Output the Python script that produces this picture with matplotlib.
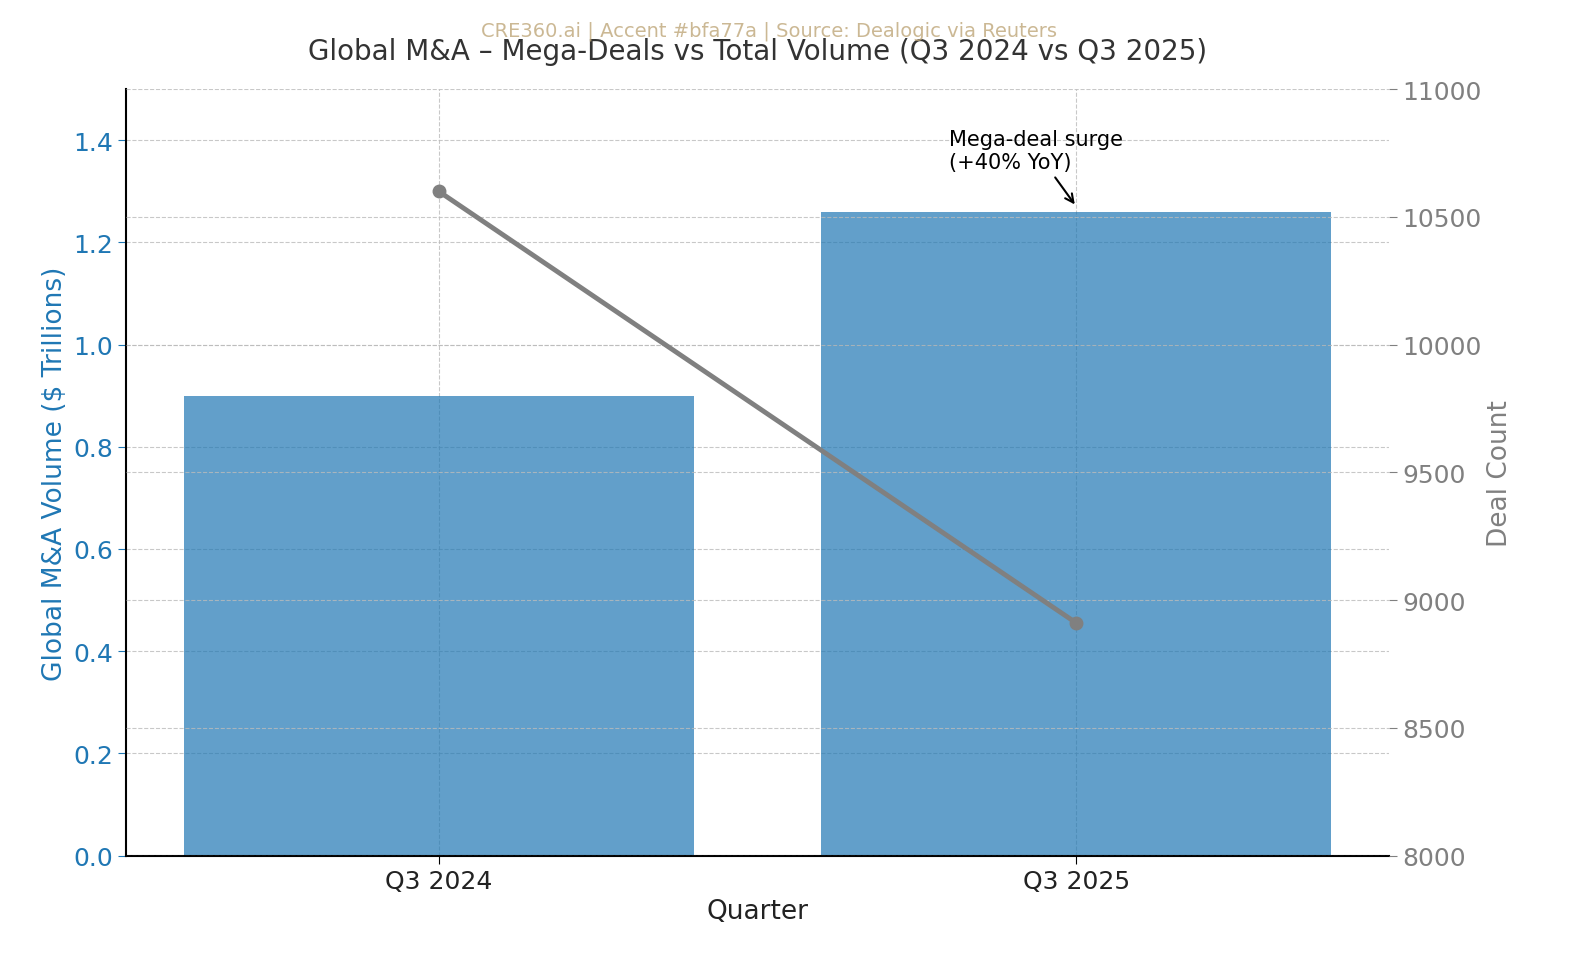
import matplotlib.pyplot as plt

quarters = ["Q3 2024", "Q3 2025"]
volume = [0.90, 1.26]          # $ trillions
deal_count = [10600, 8910]

fig, ax1 = plt.subplots(figsize=(15.8, 9.7), dpi=100)
plt.subplots_adjust(left=0.08, right=0.879, top=0.907, bottom=0.117)

x = range(len(quarters))
ax1.bar(x, volume, width=0.8, color="#1f77b4", alpha=0.7, zorder=2)
ax1.set_ylim(0, 1.5)
ax1.set_yticks([0.0, 0.2, 0.4, 0.6, 0.8, 1.0, 1.2, 1.4])
ax1.set_xticks(list(x))
ax1.set_xticklabels(quarters)
ax1.set_xlabel("Quarter", fontsize=19, color="#222222")
ax1.set_ylabel("Global M&A Volume ($ Trillions)", fontsize=19, color="#1f77b4")
ax1.tick_params(axis="y", colors="#1f77b4", labelsize=18, length=6)
ax1.tick_params(axis="x", labelsize=18, length=6, labelcolor="#222222")
ax1.grid(True, linestyle="--", color="#bbbbbb", alpha=0.8, zorder=0)
ax1.spines["top"].set_visible(False)
ax1.spines["right"].set_visible(False)
ax1.spines["left"].set_linewidth(1.5)
ax1.spines["bottom"].set_linewidth(1.5)

ax2 = ax1.twinx()
ax2.plot(list(x), deal_count, color="gray", linewidth=3.5, marker="o", markersize=9, zorder=3)
ax2.set_ylim(8000, 11000)
ax2.set_ylabel("Deal Count", fontsize=19, color="gray")
ax2.tick_params(axis="y", colors="gray", labelsize=18, length=6)
ax2.grid(True, linestyle="--", color="#bbbbbb", alpha=0.8)
for s in ["top", "right", "left", "bottom"]:
    ax2.spines[s].set_visible(False)

ax1.annotate("Mega-deal surge\n(+40% YoY)", xy=(1, 1.27), xytext=(0.8, 1.345),
             fontsize=15, color="black",
             arrowprops=dict(arrowstyle="->", color="black", lw=1.5))

ax1.set_title("Global M&A – Mega-Deals vs Total Volume (Q3 2024 vs Q3 2025)",
              fontsize=20, color="#333333", pad=22)
fig.text(0.487, 0.968, "CRE360.ai | Accent #bfa77a | Source: Dealogic via Reuters",
         ha="center", va="center", fontsize=14, color="#bfa77a", alpha=0.8)

fig.savefig("out.png", dpi=100)
